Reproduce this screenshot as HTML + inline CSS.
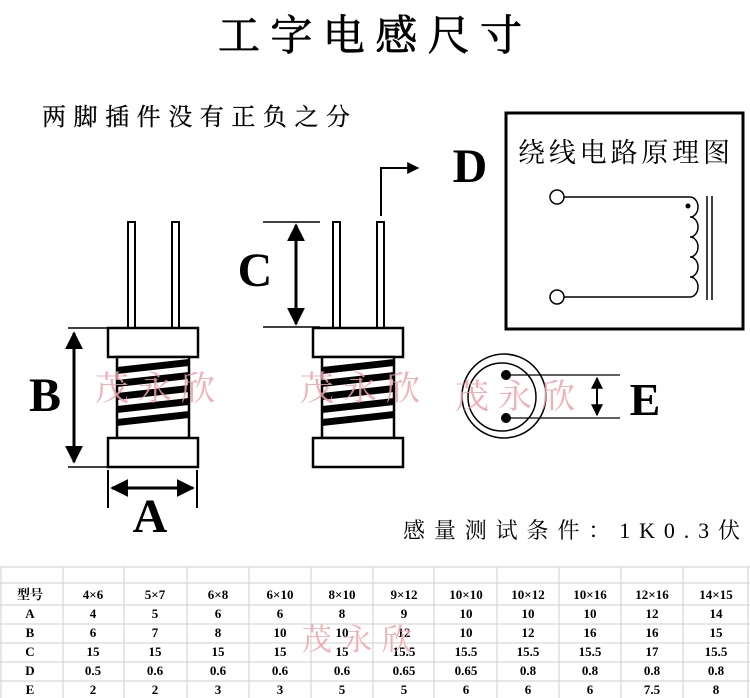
<!DOCTYPE html>
<html><head><meta charset="utf-8"><style>
html,body{margin:0;padding:0;background:#fff;}
svg{display:block;}
.cjk{font-family:"Liberation Serif","Noto Serif CJK SC","Noto Sans CJK SC",serif;}
.big{font-family:"Liberation Serif",serif;font-weight:bold;}
.wm{font-family:"Liberation Serif","Noto Serif CJK SC",serif;fill:#f0a0aa;opacity:0.85;}
.tb{font-family:"Liberation Serif","Noto Serif CJK SC",serif;font-weight:bold;font-size:13px;text-anchor:middle;}
</style></head><body>
<svg width="750" height="698" viewBox="0 0 750 698" xmlns="http://www.w3.org/2000/svg">
<defs>
<marker id="ah" viewBox="0 0 10 10" refX="9" refY="5" markerWidth="6" markerHeight="6" orient="auto-start-reverse"><path d="M0,0 L10,5 L0,10 z" fill="#000"/></marker>
<g id="ind">
  <rect x="128" y="222" width="7" height="106" fill="#fff" stroke="#000" stroke-width="2"/>
  <rect x="172" y="222" width="7" height="106" fill="#fff" stroke="#000" stroke-width="2"/>
  <rect x="108" y="328" width="90" height="29" fill="#fff" stroke="#000" stroke-width="2.5"/>
  <rect x="117" y="357" width="72" height="81" fill="#fff" stroke="#000" stroke-width="2.5"/>
  <g fill="#000">
    <polygon points="117,367 189,359 189,366 117,374"/>
    <polygon points="117,380 189,372 189,379 117,387"/>
    <polygon points="117,393 189,385 189,392 117,400"/>
    <polygon points="117,406 189,398 189,405 117,413"/>
    <polygon points="117,419 189,411 189,418 117,426"/>
  </g>
  <rect x="108" y="438" width="90" height="29" fill="#fff" stroke="#000" stroke-width="2.5"/>
</g>
</defs>

<text x="370" y="50" class="cjk" font-size="42" text-anchor="middle" textLength="304" lengthAdjust="spacing" stroke="#000" stroke-width="0.8">工字电感尺寸</text>
<text x="42" y="125" class="cjk" font-size="24" textLength="308" lengthAdjust="spacing" stroke="#000" stroke-width="0.3">两脚插件没有正负之分</text>

<use href="#ind"/>
<use href="#ind" x="205"/>

<!-- B -->
<line x1="68" y1="328" x2="108" y2="328" stroke="#000" stroke-width="1.5"/>
<line x1="68" y1="467" x2="108" y2="467" stroke="#000" stroke-width="1.5"/>
<line x1="74" y1="333" x2="74" y2="462" stroke="#000" stroke-width="3" marker-start="url(#ah)" marker-end="url(#ah)"/>
<text x="45" y="411" class="big" font-size="48" text-anchor="middle">B</text>
<!-- A -->
<line x1="108" y1="470" x2="108" y2="508" stroke="#000" stroke-width="2"/>
<line x1="197" y1="470" x2="197" y2="508" stroke="#000" stroke-width="2"/>
<line x1="112" y1="488" x2="193" y2="488" stroke="#000" stroke-width="3" marker-start="url(#ah)" marker-end="url(#ah)"/>
<text x="150" y="532" class="big" font-size="48" text-anchor="middle">A</text>
<!-- C -->
<line x1="263" y1="222" x2="320" y2="222" stroke="#000" stroke-width="1.5"/>
<line x1="263" y1="327" x2="320" y2="327" stroke="#000" stroke-width="1.5"/>
<line x1="296" y1="225" x2="296" y2="324" stroke="#000" stroke-width="3" marker-start="url(#ah)" marker-end="url(#ah)"/>
<text x="255" y="286" class="big" font-size="48" text-anchor="middle">C</text>
<!-- D arrow -->
<polyline points="381,216 381,168 418,168" fill="none" stroke="#000" stroke-width="2" marker-end="url(#ah)"/>
<text x="470" y="182" class="big" font-size="48" text-anchor="middle">D</text>

<!-- circuit box -->
<rect x="506" y="113" width="237" height="216" fill="none" stroke="#000" stroke-width="3"/>
<text x="518" y="162" class="cjk" font-size="27" textLength="212" lengthAdjust="spacing">绕线电路原理图</text>
<circle cx="557" cy="197" r="7" fill="#fff" stroke="#000" stroke-width="1.5"/>
<circle cx="557" cy="297" r="7" fill="#fff" stroke="#000" stroke-width="1.5"/>
<line x1="564" y1="197" x2="690" y2="197" stroke="#000" stroke-width="1.5"/>
<line x1="564" y1="297" x2="690" y2="297" stroke="#000" stroke-width="1.5"/>
<path d="M690,197 a8,10 0 0 1 0,20 a8,10 0 0 1 0,20 a8,10 0 0 1 0,20 a8,10 0 0 1 0,20 a8,10 0 0 1 0,20" fill="none" stroke="#000" stroke-width="1.5"/>
<circle cx="688" cy="206" r="2.5" fill="#000"/>
<line x1="707" y1="196" x2="707" y2="300" stroke="#000" stroke-width="1.5"/>
<line x1="712" y1="196" x2="712" y2="300" stroke="#000" stroke-width="1.5"/>

<!-- bottom view -->
<circle cx="504" cy="396" r="42" fill="none" stroke="#000" stroke-width="1.5"/>
<circle cx="502" cy="397" r="34" fill="none" stroke="#000" stroke-width="1.5"/>
<circle cx="506" cy="375" r="5" fill="#000"/>
<circle cx="506" cy="418" r="5" fill="#000"/>
<line x1="506" y1="375" x2="620" y2="375" stroke="#000" stroke-width="1.2"/>
<line x1="506" y1="418" x2="620" y2="418" stroke="#000" stroke-width="1.2"/>
<line x1="597" y1="378" x2="597" y2="415" stroke="#000" stroke-width="2" marker-start="url(#ah)" marker-end="url(#ah)"/>
<text x="645" y="415" class="big" font-size="46" text-anchor="middle">E</text>

<text x="403" y="538" class="cjk" font-size="22" textLength="337" lengthAdjust="spacing">感量测试条件：1K0.3伏</text>

<!-- watermarks -->
<text x="95" y="400" class="wm" font-size="34" textLength="120">茂永欣</text>
<text x="300" y="400" class="wm" font-size="34" textLength="120">茂永欣</text>
<text x="455" y="408" class="wm" font-size="34" textLength="120">茂永欣</text>

<!-- table -->
<g stroke="#cfcfcf" stroke-width="1">
<line x1="0" y1="567" x2="750" y2="567"/>
<line x1="0" y1="583" x2="750" y2="583"/>
<line x1="0" y1="605" x2="750" y2="605"/>
<line x1="0" y1="624" x2="750" y2="624"/>
<line x1="0" y1="643" x2="750" y2="643"/>
<line x1="0" y1="662" x2="750" y2="662"/>
<line x1="0" y1="681" x2="750" y2="681"/>
<line x1="1" y1="567" x2="1" y2="698"/>
<line x1="63" y1="567" x2="63" y2="698"/><line x1="124" y1="567" x2="124" y2="698"/>
<line x1="187" y1="567" x2="187" y2="698"/><line x1="249" y1="567" x2="249" y2="698"/>
<line x1="311" y1="567" x2="311" y2="698"/><line x1="373" y1="567" x2="373" y2="698"/>
<line x1="434" y1="567" x2="434" y2="698"/><line x1="497" y1="567" x2="497" y2="698"/>
<line x1="559" y1="567" x2="559" y2="698"/><line x1="621" y1="567" x2="621" y2="698"/>
<line x1="683" y1="567" x2="683" y2="698"/><line x1="748" y1="567" x2="748" y2="698"/>
</g>
<g class="tb">
<text x="30" y="599">型号</text><text x="93" y="599">4×6</text><text x="155" y="599">5×7</text><text x="218" y="599">6×8</text><text x="280" y="599">6×10</text><text x="342" y="599">8×10</text><text x="404" y="599">9×12</text><text x="466" y="599">10×10</text><text x="528" y="599">10×12</text><text x="590" y="599">10×16</text><text x="652" y="599">12×16</text><text x="716" y="599">14×15</text>
<text x="30" y="618">A</text><text x="93" y="618">4</text><text x="155" y="618">5</text><text x="218" y="618">6</text><text x="280" y="618">6</text><text x="342" y="618">8</text><text x="404" y="618">9</text><text x="466" y="618">10</text><text x="528" y="618">10</text><text x="590" y="618">10</text><text x="652" y="618">12</text><text x="716" y="618">14</text>
<text x="30" y="637">B</text><text x="93" y="637">6</text><text x="155" y="637">7</text><text x="218" y="637">8</text><text x="280" y="637">10</text><text x="342" y="637">10</text><text x="404" y="637">12</text><text x="466" y="637">10</text><text x="528" y="637">12</text><text x="590" y="637">16</text><text x="652" y="637">16</text><text x="716" y="637">15</text>
<text x="30" y="656">C</text><text x="93" y="656">15</text><text x="155" y="656">15</text><text x="218" y="656">15</text><text x="280" y="656">15</text><text x="342" y="656">15</text><text x="404" y="656">15.5</text><text x="466" y="656">15.5</text><text x="528" y="656">15.5</text><text x="590" y="656">15.5</text><text x="652" y="656">17</text><text x="716" y="656">15.5</text>
<text x="30" y="675">D</text><text x="93" y="675">0.5</text><text x="155" y="675">0.6</text><text x="218" y="675">0.6</text><text x="280" y="675">0.6</text><text x="342" y="675">0.6</text><text x="404" y="675">0.65</text><text x="466" y="675">0.65</text><text x="528" y="675">0.8</text><text x="590" y="675">0.8</text><text x="652" y="675">0.8</text><text x="716" y="675">0.8</text>
<text x="30" y="694">E</text><text x="93" y="694">2</text><text x="155" y="694">2</text><text x="218" y="694">3</text><text x="280" y="694">3</text><text x="342" y="694">5</text><text x="404" y="694">5</text><text x="466" y="694">6</text><text x="528" y="694">6</text><text x="590" y="694">6</text><text x="652" y="694">7.5</text><text x="716" y="694">8</text>
</g>
<text x="302" y="650" class="wm" font-size="30" textLength="110">茂永欣</text>
</svg>
</body></html>
